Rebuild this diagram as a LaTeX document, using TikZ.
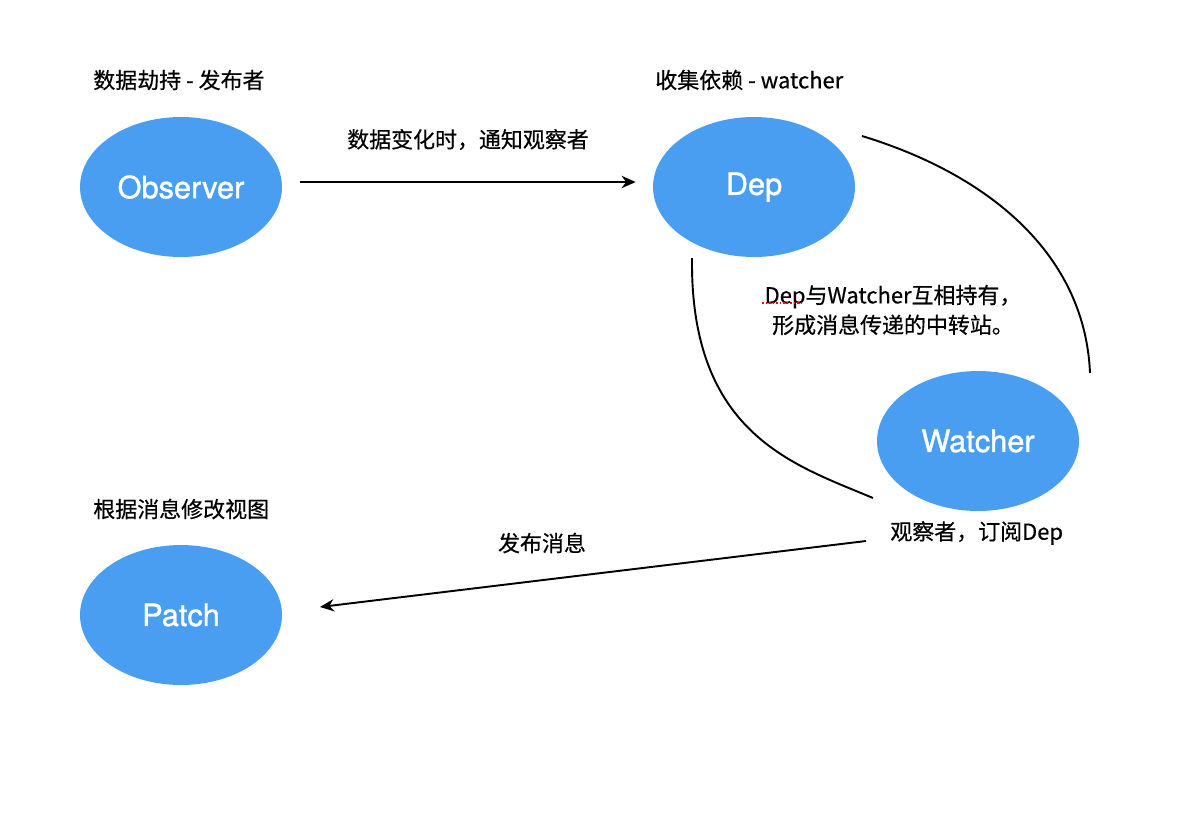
\documentclass[tikz,border=0pt]{standalone}
\usepackage{fontspec}
\setmainfont{Noto Sans CJK SC}[FakeBold=0.5]
\newfontfamily\helv{TeX Gyre Heros}[FakeBold=1.2]
\usepackage{xcolor}
\usetikzlibrary{shapes.geometric, arrows.meta, positioning}
\definecolor{nodeblue}{RGB}{74,158,242}

\begin{document}
\begin{tikzpicture}[x=0.02cm, y=-0.02cm,
                blob/.style={ellipse, fill=nodeblue, draw=none, minimum width=4.04cm, minimum height=2.8cm, inner sep=0pt, text=white, font=\helv\fontsize{17.5}{20}\selectfont},
                lbl/.style={font=\fontsize{12.5}{17}\selectfont, inner sep=0pt},
                arr/.style={-{Stealth[length=8pt, width=7pt]}, line width=1.1pt},
                link/.style={line width=1.1pt}]
                \useasboundingbox (0,0) rectangle (1200,816);
                \node[blob] (obs) at (181,187) {Observer};
                \node[blob] (dep) at (754,187) {Dep};
                \node[blob] (wat) at (978,441) {Watcher};
                \node[blob] (pat) at (181,615) {Patch};

                \node[lbl, anchor=west] (obstitle) at (93,80) {数据劫持 - 发布者};
                \node[lbl, anchor=west] (deptitle) at (655,80) {收集依赖 - watcher};
                \node[lbl, anchor=west] (pattitle) at (93,509) {根据消息修改视图};
                \node[lbl, anchor=west] (watlabel) at (890,533) {观察者，订阅Dep};
                \node[lbl, align=center, font=\fontsize{12.5}{17}\selectfont] (midlabel) at (893,310) {Dep与Watcher互相持有，\\形成消息传递的中转站。};
                \draw[red, densely dotted, line width=1pt] (762,303) -- (804,303);

                % notify
                \draw[arr] ([yshift=0.1cm, xshift=0.36cm]obs.east) -- node[lbl, above=0.62cm] (notify) {数据变化时，通知观察者} ([yshift=0.1cm, xshift=-0.34cm]dep.west);

                % publish
                \coordinate (pubs) at (866,541);
                \coordinate (pube) at (320,607);
                \draw[arr] (pubs) -- (pube);
                \node[lbl] (publish) at (542,543) {发布消息};

                % dep <-> watcher
                \coordinate (c1s) at (862,136);
                \coordinate (c1e) at (1090,373);
                \coordinate (c2s) at (692,258);
                \coordinate (c2e) at (873,498);
                \draw[link] (c1s) .. controls (990,175) and (1085,255) .. (c1e);
                \draw[link] (c2s) .. controls (690,435) and (795,465) .. (c2e);
            \end{tikzpicture}
\end{document}
